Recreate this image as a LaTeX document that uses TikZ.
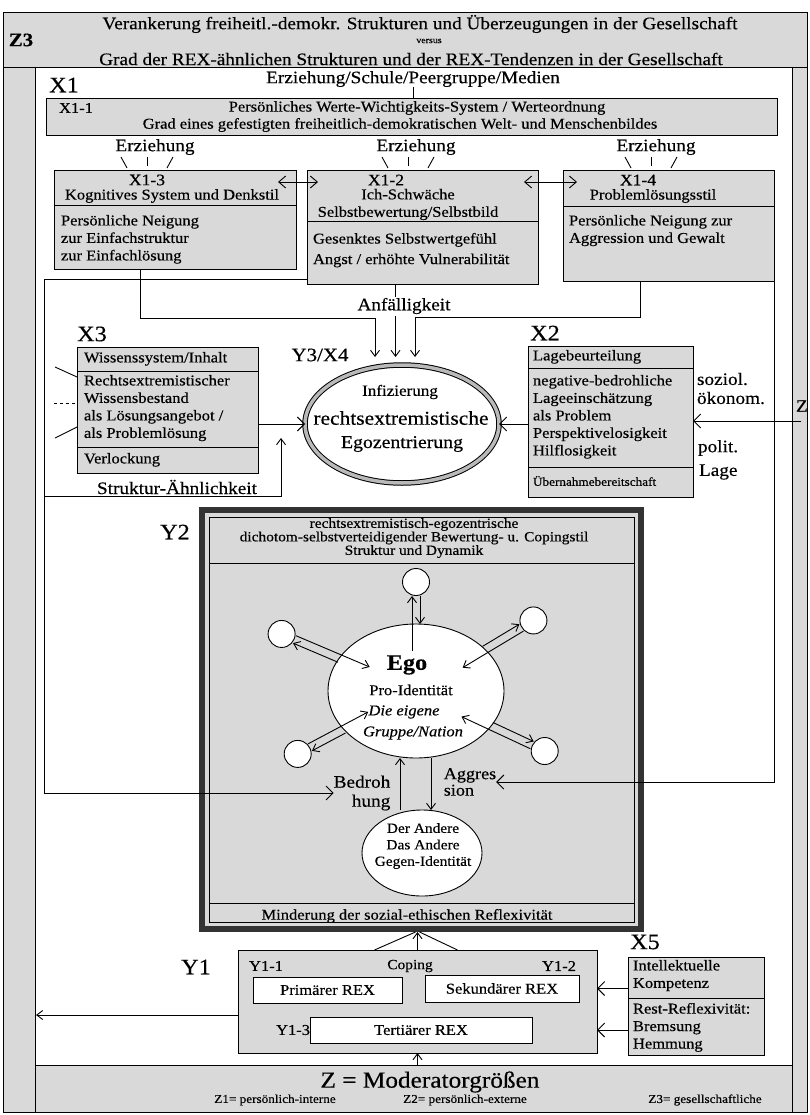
\documentclass[tikz,border=0pt]{standalone}
\usepackage{fontspec}
\setmainfont{Liberation Serif}[FakeStretch=1.1,FakeBold=0.4]
\usetikzlibrary{arrows.meta,positioning,shapes.geometric,calc}

\definecolor{stip}{gray}{0.85}
\newcommand{\sizeL}{\fontsize{22}{24}\selectfont}
\newcommand{\sizeM}{\fontsize{19}{21}\selectfont}
\newcommand{\sizeH}{\fontsize{17.5}{19}\selectfont}
\newcommand{\sizeK}{\fontsize{16}{17}\selectfont}
\newcommand{\sizeB}{\fontsize{15}{17.5}\selectfont}
\newcommand{\sizeS}{\fontsize{14}{13.5}\selectfont}
\newcommand{\sizeT}{\fontsize{12}{13}\selectfont}

\tikzset{
  every node/.style={inner sep=0pt, outer sep=0pt},
  box/.style={draw, fill=stip, line width=0.9pt},
  wbox/.style={draw, fill=white, line width=0.9pt},
  txt/.style={font=\sizeB, align=left, anchor=north west},
  arr/.style={-{Straight Barb[length=6pt,width=9pt]}, line width=0.9pt},
  chev/.style={-{Straight Barb[length=7pt,width=14pt]}, line width=0.9pt},
  dbl/.style={{Straight Barb[length=7pt,width=12pt]}-{Straight Barb[length=7pt,width=12pt]}, line width=0.9pt},
  sat/.style={circle, draw, fill=white, line width=0.9pt, minimum size=27pt}
}

\begin{document}
\begin{tikzpicture}[x=1pt,y=-1pt,line width=0.9pt]
\useasboundingbox (0,0) rectangle (810,1115);
\fill[stip] (3,12) rectangle (807,1112);
\fill[white] (35,67) rectangle (792,1065);
\draw (3,12) rectangle (807,1112);
\draw (3,67) -- (807,67);
\draw (35,67) -- (35,1112);
\draw (792,67) -- (792,1112);
\draw (35,1065) -- (792,1065);

\node[font=\fontsize{19}{20}\selectfont\bfseries] (zdrei) at (21,40) {Z3};
\node[font=\sizeH] (headA) at (420,24) {Verankerung freiheitl.-demokr. Strukturen und Überzeugungen in der Gesellschaft};
\node[font=\fontsize{9}{10}\selectfont] (versus) at (429,41) {versus};
\node[font=\sizeH] (headB) at (411,59) {Grad der REX-ähnlichen Strukturen und der REX-Tendenzen in der Gesellschaft};

\node[font=\sizeL] (xeins) at (64,85) {X1};
\node[font=\sizeH] (medien) at (413,79) {Erziehung/Schule/Peergruppe/Medien};
\node[box, minimum width=731pt, minimum height=37pt] (x11) at (411.5,116.5) {};
\draw (medien.south) -- (medien.south |- x11.north);
\node[font=\sizeB] (l11) at (76,108) {X1-1};
\node[font=\sizeB] (wertA) at (417,108) {Persönliches Werte-Wichtigkeits-System / Werteordnung};
\node[font=\sizeB] (wertB) at (400,125) {Grad eines gefestigten freiheitlich-demokratischen Welt- und Menschenbildes};

\foreach \nm/\cx/\tx in {erzA/155/147, erzB/416/408, erzC/656/651} {
  \node[font=\sizeH] (\nm) at (\cx,147) {Erziehung};
  \draw (\tx-26,157) -- (\tx-20,168);
  \draw (\tx,157) -- (\tx,166);
  \draw (\tx+26,157) -- (\tx+20,168);
}

\node[box, minimum width=242pt, minimum height=99pt] (x13) at (175,219.5) {};
\node[box, minimum width=231pt, minimum height=114pt] (x12) at (422.5,227) {};
\node[box, minimum width=211pt, minimum height=111pt] (x14) at (668.5,225.5) {};
\draw (x13.west |- 0,205) -- (x13.east |- 0,205);
\draw (x12.west |- 0,221) -- (x12.east |- 0,221);
\draw (x14.west |- 0,206) -- (x14.east |- 0,206);

\node[font=\sizeK] (l13) at (147,180) {X1-3};
\node[font=\sizeB] (t13a) at (172,196) {Kognitives System und Denkstil};
\node[txt] (t13b) at (61,215) {Persönliche Neigung\\zur Einfachstruktur\\zur Einfachlösung};
\node[font=\sizeK] (l12) at (386,180) {X1-2};
\node[font=\sizeB, align=center] (t12a) at (408,204.5) {Ich-Schwäche\\Selbstbewertung/Selbstbild};
\node[txt] (t12b) at (313,233) {Gesenktes Selbstwertgefühl\\[3pt]Angst / erhöhte Vulnerabilität};
\node[font=\sizeK] (l14) at (638,180) {X1-4};
\node[font=\sizeB] (t14a) at (653,196) {Problemlösungsstil};
\node[txt] (t14b) at (569,215) {Persönliche Neigung zur\\Aggression und Gewalt};

\draw[dbl] ([shift={(-18,12)}]x13.north east) -- ([shift={(11,12)}]x12.north west);
\draw[dbl] ([shift={(-14,12)}]x12.north east) -- ([shift={(14,12)}]x14.north west);

\node[ellipse, draw, line width=1pt, double=gray!55, double distance=3.5pt, fill=white, minimum width=194pt, minimum height=118pt] (infekt) at (402,424) {};
\node[font=\fontsize{15.5}{17}\selectfont] (infA) at (400,392) {Infizierung};
\node[font=\fontsize{19.5}{21}\selectfont] (infB) at (401,418) {rechtsextremistische};
\node[font=\fontsize{18}{20}\selectfont] (infC) at (402,444) {Egozentrierung};
\node[font=\sizeM] (yx) at (320,355) {Y3/X4};

\node[font=\sizeH] (anfall) at (404,306) {Anfälligkeit};
\draw[arr, shorten >=8pt] ([xshift=-35pt]x13.south) |- (375,318) -- (375,0 |- infekt.north);
\draw ([xshift=-27pt]x12.south) -- ++(0,13);
\draw[arr, shorten >=8pt] (395.5,316) -- (395.5,0 |- infekt.north);
\draw[arr, shorten >=8pt] ([xshift=-28pt]x14.south) |- (415,317) -- (415,0 |- infekt.north);

\node[font=\sizeL] (lx3) at (92,334) {X3};
\node[box, minimum width=181pt, minimum height=126pt] (x3) at (167.5,410) {};
\draw (x3.west |- 0,371) -- (x3.east |- 0,371);
\draw (x3.west |- 0,447) -- (x3.east |- 0,447);
\node[txt] (t3a) at (84,352) {Wissenssystem/Inhalt};
\node[txt] (t3b) at (84,375) {Rechtsextremistischer\\Wissensbestand\\als Lösungsangebot /\\als Problemlösung};
\node[txt] (t3c) at (84,453) {Verlockung};
\draw (55,367) -- (x3.west |- 0,377);
\draw[dashed] (54,403) -- (x3.west |- 0,403);
\draw (55,438) -- (x3.west |- 0,427);
\draw[chev] (x3.east |- infekt.west) -- (infekt.west);

\node[font=\sizeH] (struk) at (177,487) {Struktur-Ähnlichkeit};
\coordinate (sjoin) at (44,496);
\coordinate (strukTip) at (281,438);
\draw[arr] (sjoin) -| (strukTip);

\node[font=\sizeL] (lx2) at (545,333) {X2};
\node[box, minimum width=165pt, minimum height=151pt] (x2) at (610.5,421.5) {};
\draw (x2.west |- 0,368) -- (x2.east |- 0,368);
\draw (x2.west |- 0,467) -- (x2.east |- 0,467);
\node[txt] (t2a) at (533,350) {Lagebeurteilung};
\node[txt] (t2b) at (533,375) {negative-bedrohliche\\Lageeinschätzung\\als Problem\\Perspektivelosigkeit\\Hilflosigkeit};
\node[font=\sizeT, anchor=west] (t2c) at (533,481) {Übernahmebereitschaft};
\draw[chev] (x2.west |- infekt.east) -- (infekt.east);
\node[font=\sizeH, anchor=west] (soz) at (697,379) {soziol.};
\node[font=\sizeH, anchor=west] (oek) at (697,398) {ökonom.};
\node[font=\sizeH, anchor=west] (pol) at (698,448) {polit.};
\node[font=\sizeH, anchor=west] (lage) at (699,472) {Lage};
\node[font=\sizeH, anchor=west] (zr) at (796,406) {Z};
\coordinate (zin) at (801,421);
\draw[chev] (zin) -- (zin -| x2.east);

\node[draw=black!80, line width=6pt, fill=stip, minimum width=439pt, minimum height=419pt] (y2) at (421.5,719.5) {};
\node[draw, line width=0.6pt, minimum width=425pt, minimum height=405pt] (y2in) at (y2.center) {};
\node[font=\sizeL] (ly2) at (175,532) {Y2};
\node[font=\sizeS, align=center] (y2head) at (414,538) {rechtsextremistisch-egozentrische\\dichotom-selbstverteidigender Bewertung- u. Copingstil\\Struktur und Dynamik};
\draw (y2in.west |- 0,563) -- (y2in.east |- 0,563);
\draw (y2in.west |- 0,903) -- (y2in.east |- 0,903);
\node[font=\sizeB] (minder) at (407,916) {Minderung der sozial-ethischen Reflexivität};

\node[ellipse, draw, fill=white, minimum width=176pt, minimum height=134pt] (ego) at (416,691) {};
\node[font=\sizeL\bfseries] (egoA) at (407,665) {Ego};
\node[font=\sizeB] (egoB) at (411,690) {Pro-Identität};
\node[font=\sizeB\itshape] (egoC) at (404,712) {Die eigene};
\node[font=\sizeB\itshape] (egoD) at (413,733) {Gruppe/Nation};

\foreach \nm/\ang/\dist in {satN/-90/109, satNE/-31/137, satNW/-157/146, satSW/152/134, satSE/25/142}
  \node[sat] (\nm) at ($(ego.center)+(\ang:\dist)$) {};
\foreach \s/\ra/\rb in {satN/67/40, satNE/52/80, satNW/52/83, satSW/52/82, satSE/52/83} {
  \draw[arr, shorten <=14pt, shorten >=\ra pt] ($(\s)!4pt!90:(ego)$) -- ($(ego)!4pt!-90:(\s)$);
  \draw[arr, shorten <=\rb pt, shorten >=14pt] ($(ego)!4pt!90:(\s)$) -- ($(\s)!4pt!-90:(ego)$);
}

\node[ellipse, draw, fill=white, minimum width=120pt, minimum height=86pt] (ander) at (422,853) {};
\node[font=\fontsize{14}{16.5}\selectfont, align=center] (anderT) at (423,846) {Der Andere\\Das Andere\\Gegen-Identität};
\draw[arr] (400,0 |- ander.north) -- (400,0 |- ego.south);
\draw[arr] (431,0 |- ego.south) -- (431,0 |- ander.north);
\node[font=\sizeH, align=right] (bedroh) at (362,793) {Bedroh\\hung};
\node[font=\fontsize{16.5}{16.5}\selectfont, align=left] (aggr) at (470,782) {Aggres\\sion};
\draw[chev] ([shift={(0,-5)}]x12.south west) -| (44,0 |- bedroh.west) -- (bedroh.west);
\draw[chev] (x14.south east) |- (aggr.east);

\node[box, minimum width=359pt, minimum height=103pt] (y1) at (417.5,1001.5) {};
\node[font=\sizeL] (ly1) at (196,967) {Y1};
\node[font=\sizeB] (ly11) at (266,966) {Y1-1};
\node[font=\fontsize{14}{15}\selectfont] (coping) at (410,966) {Coping};
\node[font=\sizeB] (ly12) at (559,966) {Y1-2};
\node[wbox, minimum width=149pt, minimum height=26pt, font=\sizeB] (prim) at (327.5,990) {Primärer REX};
\node[wbox, minimum width=154pt, minimum height=27pt, font=\sizeB] (sek) at (502,988.5) {Sekundärer REX};
\node[wbox, minimum width=222pt, minimum height=26pt, font=\sizeB] (tert) at (421,1030) {Tertiärer REX};
\node[font=\sizeB, anchor=east] (ly13) at (tert.west) {Y1-3};
\draw[arr, shorten >=3pt] (y1.north) -- (y1.north |- y2.south);
\draw ([xshift=-43pt]y1.north) -- ($(y1.north |- y2.south)+(-2,3)$);
\draw ([xshift=40pt]y1.north) -- ($(y1.north |- y2.south)+(2,3)$);
\coordinate (frameL) at (36,1015);
\draw[arr] (y1.west |- frameL) -- (frameL);
\coordinate (zTop) at (417.5,1065);
\draw[arr] (zTop) -- (y1.south);

\node[font=\sizeL] (lx5) at (645,942) {X5};
\node[box, minimum width=136pt, minimum height=98pt] (x5) at (696,1006) {};
\draw (x5.west |- 0,998) -- (x5.east |- 0,998);
\node[txt] (t5a) at (633,960) {Intellektuelle\\Kompetenz};
\node[txt] (t5b) at (633,1003) {Rest-Reflexivität:\\Bremsung\\Hemmung};
\draw[chev] (x5.west |- sek.east) -- (y1.east |- sek.east);
\draw[chev] (x5.west |- tert.east) -- (y1.east |- tert.east);

\node[font=\fontsize{23}{25}\selectfont] (zmod) at (430,1082) {Z = Moderatorgrößen};
\node[font=\sizeT] (zeins) at (275,1100) {Z1= persönlich-interne};
\node[font=\sizeT] (zzwei) at (465,1100) {Z2= persönlich-externe};
\node[font=\sizeT] (zdreiB) at (705,1100) {Z3= gesellschaftliche};
\end{tikzpicture}
\end{document}
